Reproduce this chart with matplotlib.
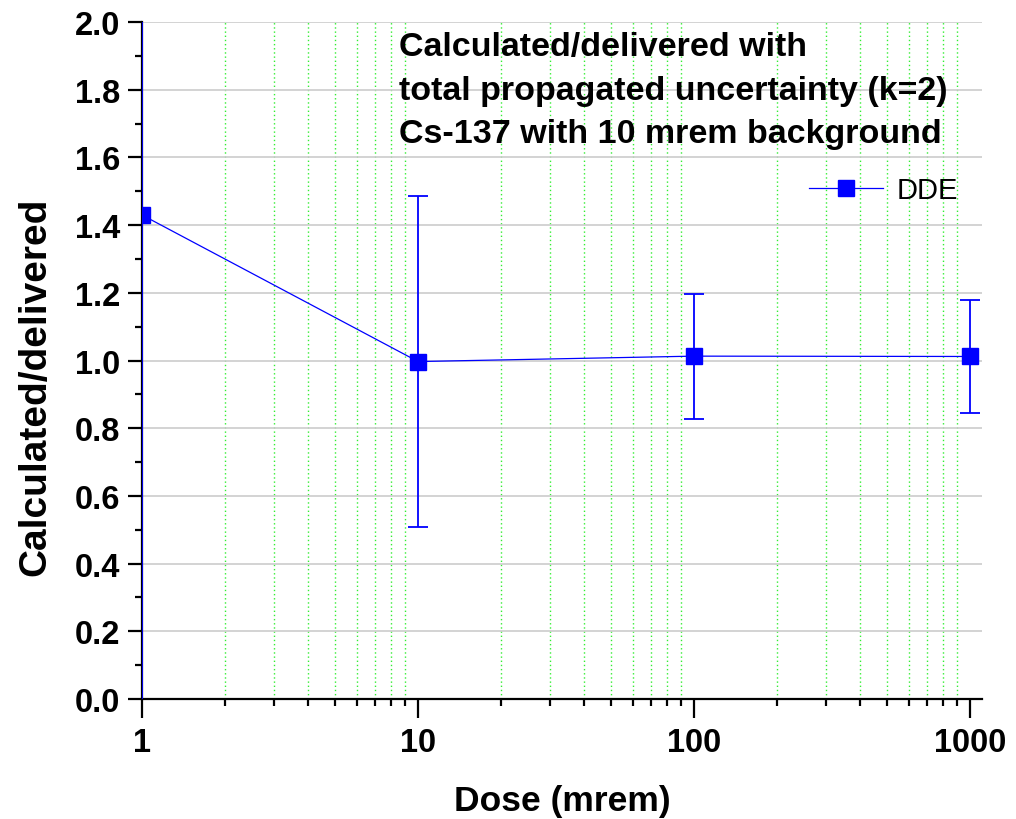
import matplotlib
matplotlib.use("Agg")
import matplotlib.pyplot as plt
from matplotlib.lines import Line2D
from matplotlib.ticker import LogLocator, MultipleLocator, NullFormatter, FixedLocator, FixedFormatter

plt.rcParams['font.family'] = ['Liberation Sans', 'DejaVu Sans']

# dose (mrem) vs calculated/delivered ratio, k=2 uncertainty
dose = [1, 10, 100, 1000]
ratio = [1.43, 0.997, 1.013, 1.012]
err_lo = [1.6, 0.489, 0.185, 0.168]
err_hi = [1.6, 0.489, 0.183, 0.168]

title_lines = ["Calculated/delivered with",
               "total propagated uncertainty (k=2)",
               "Cs-137 with 10 mrem background"]

fig = plt.figure(figsize=(10.16, 8.2), dpi=100)
ax = fig.add_axes([0.1398, 0.1463, 0.8268, 0.8256])

blue = (0, 0, 1)
ax.errorbar(dose, ratio, yerr=[err_lo, err_hi], color=blue, lw=0.9,
            marker='s', ms=11, mfc=blue, mec=blue,
            elinewidth=1.3, capsize=7, capthick=1.3, zorder=3)

ax.set_xscale('log')
ax.set_xlim(1, 1105)
ax.set_ylim(0, 2.0)

ax.xaxis.set_major_locator(FixedLocator([1, 10, 100, 1000]))
ax.xaxis.set_major_formatter(FixedFormatter(['1', '10', '100', '1000']))
ax.xaxis.set_minor_locator(LogLocator(base=10, subs=range(2, 10)))
ax.xaxis.set_minor_formatter(NullFormatter())
ax.yaxis.set_major_locator(MultipleLocator(0.2))
ax.yaxis.set_minor_locator(MultipleLocator(0.1))
ax.yaxis.set_major_formatter(plt.FuncFormatter(lambda v, p: f"{v:.1f}"))

ax.grid(True, which='minor', axis='x', color='#33ee33', ls=(0, (1, 2)), lw=1.0)
ax.grid(True, which='major', axis='y', color='#cccccc', ls='-', lw=1.2)
ax.set_axisbelow(True)

for s in ['top', 'right']:
    ax.spines[s].set_visible(False)
for s in ['left', 'bottom']:
    ax.spines[s].set_linewidth(1.6)

ax.tick_params(which='major', direction='out', length=10, width=1.6,
               labelsize=23.5, pad=6)
ax.tick_params(which='minor', direction='out', length=5, width=1.6)
ax.tick_params(axis='x', which='major', length=14)
for lbl in ax.get_xticklabels() + ax.get_yticklabels():
    lbl.set_fontweight('bold')

ax.set_xlabel("Dose (mrem)", fontsize=25.5, fontweight='bold', labelpad=19)
ax.set_ylabel("Calculated/delivered", fontsize=28, fontweight='bold')
ax.yaxis.set_label_coords(-0.106, 0.462)

ax.text(0.306, 0.987, "\n".join(title_lines), transform=ax.transAxes,
        ha='left', va='top', fontsize=24.5, fontweight='bold', linespacing=1.53)

handle = Line2D([], [], color=blue, lw=0.9, marker='s', ms=11, mfc=blue, mec=blue)
ax.legend([handle], ['DDE'], loc='upper right', bbox_to_anchor=(0.985, 0.79),
          frameon=False, fontsize=21, handlelength=2.55, handletextpad=0.45,
          borderaxespad=0)

fig.savefig("out.png", dpi=100)
